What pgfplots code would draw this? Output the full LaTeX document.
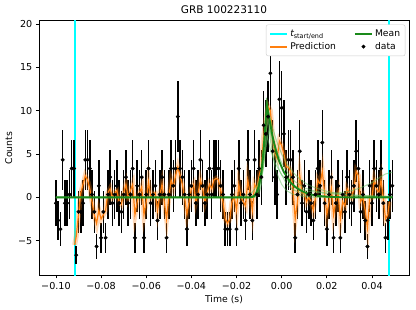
\documentclass[border=0pt]{standalone}
\usepackage{fontspec}
\setmainfont{DejaVu Sans}
\usepackage{pgfplots}
\pgfplotsset{compat=1.18}
\usepackage{pgfplotstable}
\definecolor{mplorange}{RGB}{255,127,14}
\definecolor{mplgreen}{RGB}{26,138,26}
\definecolor{lgreen}{RGB}{92,191,92}
\definecolor{mcyan}{RGB}{0,255,255}
\definecolor{blk}{RGB}{0,0,0}
\definecolor{lgray}{RGB}{204,204,204}

\pgfplotstableread{
x y e
-0.100 -0.67 2.65
-0.099 -2.67 2.24
-0.098 -3.67 2.00
-0.097 4.33 3.46
-0.096 -0.67 2.65
-0.095 -0.67 2.65
-0.094 0.33 2.83
-0.093 3.33 3.32
-0.092 3.33 3.32
-0.091 -6.67 1.00
-0.090 -1.67 2.45
-0.089 -1.67 2.45
-0.088 -0.67 2.65
-0.087 4.33 3.46
-0.086 4.33 3.46
-0.085 3.33 3.32
-0.084 0.33 2.83
-0.083 -1.67 2.45
-0.082 -5.67 1.41
-0.081 1.33 3.00
-0.080 -4.67 1.73
-0.079 -1.67 2.45
-0.078 -4.67 1.73
-0.077 0.33 2.83
-0.076 2.33 3.16
-0.075 -0.67 2.65
-0.074 0.33 2.83
-0.073 1.33 3.00
-0.072 -0.67 2.65
-0.071 -1.67 2.45
-0.070 0.33 2.83
-0.069 2.33 3.16
-0.068 -0.67 2.65
-0.067 0.33 2.83
-0.066 3.33 3.32
-0.065 -4.67 1.73
-0.064 1.33 3.00
-0.063 0.33 2.83
-0.062 2.33 3.16
-0.061 -4.67 1.73
-0.060 0.33 2.83
-0.059 3.33 3.32
-0.058 -0.67 2.65
-0.057 0.33 2.83
-0.056 1.33 3.00
-0.055 -2.67 2.24
-0.054 0.33 2.83
-0.053 2.33 3.16
-0.052 0.33 2.83
-0.051 -4.67 1.73
-0.050 0.33 2.83
-0.049 3.33 3.32
-0.048 1.33 3.00
-0.047 3.33 3.32
-0.046 9.33 4.12
-0.045 3.33 3.32
-0.044 2.33 3.16
-0.043 0.33 2.83
-0.042 -3.67 2.00
-0.041 0.33 2.83
-0.040 1.33 3.00
-0.039 3.33 3.32
-0.038 -0.67 2.65
-0.037 0.33 2.83
-0.036 4.33 3.46
-0.035 1.33 3.00
-0.034 -0.67 2.65
-0.033 0.33 2.83
-0.032 3.33 3.32
-0.031 0.33 2.83
-0.030 3.33 3.32
-0.029 3.33 3.32
-0.028 3.33 3.32
-0.027 1.33 3.00
-0.026 0.33 2.83
-0.025 -3.67 2.00
-0.024 -3.67 2.00
-0.023 -3.67 2.00
-0.022 0.33 2.83
-0.021 1.33 3.00
-0.020 -3.67 2.00
-0.019 3.33 3.32
-0.018 -0.67 2.65
-0.017 0.33 2.83
-0.016 -2.67 2.24
-0.015 4.33 3.46
-0.014 0.33 2.83
-0.013 -2.67 2.24
-0.012 4.33 3.46
-0.011 0.33 2.83
-0.010 3.33 3.32
-0.009 2.33 3.16
-0.008 8.33 4.00
-0.007 7.33 3.87
-0.006 9.33 4.12
-0.005 14.33 4.69
-0.004 5.33 3.61
-0.003 2.33 3.16
-0.002 0.33 2.83
-0.001 11.33 4.36
0.000 10.33 4.24
0.001 7.33 3.87
0.002 2.33 3.16
0.003 4.33 3.46
0.004 4.33 3.46
0.005 2.33 3.16
0.006 -4.67 1.73
0.007 0.33 2.83
0.008 5.33 3.61
0.009 -0.67 2.65
0.010 1.33 3.00
0.011 -1.67 2.45
0.012 0.33 2.83
0.013 -0.67 2.65
0.014 -2.67 2.24
0.015 0.33 2.83
0.016 3.33 3.32
0.017 1.33 3.00
0.018 6.33 3.74
0.019 -0.67 2.65
0.020 -3.67 2.00
0.021 0.33 2.83
0.022 2.33 3.16
0.023 -4.67 1.73
0.024 -0.67 2.65
0.025 1.33 3.00
0.026 -4.67 1.73
0.027 0.33 2.83
0.028 -1.67 2.45
0.029 2.33 3.16
0.030 0.33 2.83
0.031 -0.67 2.65
0.032 1.33 3.00
0.033 5.33 3.61
0.034 3.33 3.32
0.035 -1.67 2.45
0.036 0.33 2.83
0.037 -2.67 2.24
0.038 -5.67 1.41
0.039 1.33 3.00
0.040 -0.67 2.65
0.041 3.33 3.32
0.042 1.33 3.00
0.043 0.33 2.83
0.044 3.33 3.32
0.045 -0.67 2.65
0.046 -4.67 1.73
0.047 -2.67 2.24
0.048 0.33 2.83
0.049 1.33 3.00
}\data

\pgfplotstableread{
x p
-0.0917 -5.5
-0.091 -4.5
-0.090 -2.0
-0.089 0.5
-0.088 1.5
-0.087 2.5
-0.086 2.0
-0.085 1.0
-0.084 -0.5
-0.083 -2.0
-0.082 -3.0
-0.081 -1.5
-0.080 -2.5
-0.079 -2.0
-0.078 -1.5
-0.077 0.5
-0.076 1.0
-0.075 0.0
-0.074 0.5
-0.073 0.8
-0.072 -0.5
-0.071 -0.8
-0.070 0.5
-0.069 1.5
-0.068 0.0
-0.067 0.8
-0.066 1.5
-0.065 -2.0
-0.064 -0.5
-0.063 0.5
-0.062 1.2
-0.061 -2.0
-0.060 -0.5
-0.059 1.8
-0.058 0.0
-0.057 0.5
-0.056 0.5
-0.055 -1.5
-0.054 0.2
-0.053 1.5
-0.052 -0.5
-0.051 -2.5
-0.050 0.0
-0.049 2.0
-0.048 1.2
-0.047 2.5
-0.046 3.5
-0.045 2.5
-0.044 1.5
-0.043 0.0
-0.042 -2.0
-0.041 -0.5
-0.040 1.0
-0.039 1.5
-0.038 -0.5
-0.037 0.5
-0.036 2.0
-0.035 1.0
-0.034 -0.5
-0.033 0.5
-0.032 1.5
-0.031 1.0
-0.030 2.0
-0.029 2.2
-0.028 2.0
-0.027 0.8
-0.026 -0.5
-0.025 -2.5
-0.024 -3.0
-0.023 -2.5
-0.022 -0.5
-0.021 0.0
-0.020 -1.5
-0.019 1.5
-0.018 0.0
-0.017 -0.5
-0.016 -1.0
-0.015 2.0
-0.014 0.5
-0.013 -1.5
-0.012 1.5
-0.011 1.0
-0.010 2.5
-0.009 3.5
-0.008 7.0
-0.007 9.0
-0.006 10.5
-0.005 10.0
-0.004 7.0
-0.003 5.0
-0.002 4.5
-0.001 6.5
0.000 6.0
0.001 5.0
0.002 3.5
0.003 3.5
0.004 3.0
0.005 1.0
0.006 -2.5
0.007 -0.5
0.008 2.5
0.009 0.5
0.010 0.5
0.011 -0.5
0.012 0.0
0.013 -0.5
0.014 -1.5
0.015 0.0
0.016 2.0
0.017 1.5
0.018 3.0
0.019 0.5
0.020 -2.0
0.021 -0.5
0.022 1.0
0.023 -2.0
0.024 -0.5
0.025 0.5
0.026 -2.5
0.027 -0.5
0.028 -1.0
0.029 1.0
0.030 0.5
0.031 0.0
0.032 1.0
0.033 3.0
0.034 2.5
0.035 -0.5
0.036 0.0
0.037 -1.5
0.038 -3.5
0.039 0.0
0.040 0.0
0.041 2.0
0.042 1.0
0.043 0.5
0.044 2.0
0.045 0.0
0.046 -2.5
0.047 -2.0
0.0477 -0.5
}\pred

\begin{document}
\begin{tikzpicture}
\begin{axis}[
  scale only axis, width=370pt, height=254.6pt,
  xmin=-0.1075, xmax=0.0564, ymin=-9.0, ymax=20.4,
  axis line style={line width=0.7pt, blk},
  tick style={line width=0.7pt, blk},
  tick align=outside, major tick length=3.2pt,
  xtick pos=bottom, ytick pos=left,
  xtick={-0.10,-0.08,-0.06,-0.04,-0.02,0,0.02,0.04},
  xticklabels={−0.10,−0.08,−0.06,−0.04,−0.02,0.00,0.02,0.04},
  ytick={-5,0,5,10,15,20},
  yticklabels={−5,0,5,10,15,20},
  scaled x ticks=false,
  tick label style={font=\fontsize{9.6}{11}\selectfont},
  label style={font=\fontsize{9.3}{11}\selectfont},
  xlabel={Time (s)}, ylabel={Counts},
  xlabel style={yshift=1pt},
  ylabel style={yshift=-1pt},
  title={GRB 100223110},
  title style={font=\fontsize{10.5}{12}\selectfont, yshift=-2pt},
  legend columns=2,
  legend style={at={(rel axis cs:0.99,0.985)}, anchor=north east,
    draw=lgray, rounded corners=2pt, fill=white,
    font=\fontsize{9.2}{11}\selectfont, row sep=0.5pt,
    inner sep=3pt,
    /tikz/every even column/.append style={column sep=16pt}},
  legend cell align=left,
  clip=true,
]
% t start / end (drawn first)
\addplot[mcyan, line width=2pt] coordinates {(-0.0917,-9.5) (-0.0917,21)};
\addlegendentry{{\itshape t}\textsubscript{start/end}}
\addplot[mcyan, line width=2pt, forget plot] coordinates {(0.0477,-9.5) (0.0477,21)};

\addlegendimage{mplgreen, line width=2pt}
\addlegendentry{Mean}
\addlegendimage{mplorange, line width=2pt}
\addlegendentry{Prediction}
\addlegendimage{blk, only marks, mark=*, mark size=1.8pt, error bars/.cd, y dir=both, y fixed=3, error mark=none, error bar style={line width=1.5pt, blk}}
\addlegendentry{data}

% data
\addplot[only marks, mark=*, mark size=1.8pt, blk, forget plot,
  error bars/.cd, y dir=both, y explicit, error mark=none,
  error bar style={line width=1.5pt, blk}]
  table[x=x, y=y, y error=e] {\data};

% prediction band and line
\addplot[mplorange, line width=5pt, opacity=0.3, forget plot] table[x=x, y=p] {\pred};
\addplot[mplorange, line width=1.2pt, forget plot] table[x=x, y=p] {\pred};

% green samples
\addplot[lgreen, line width=1pt, opacity=0.5, forget plot] coordinates {
(-0.100,0) (-0.014,0) (-0.012,0.3) (-0.010,1.5) (-0.009,3.2) (-0.008,6.0) (-0.007,9.5) (-0.0068,11.5) (-0.006,10.3) (-0.005,9.0) (-0.004,8.0) (-0.002,6.3) (0.000,5.0) (0.002,4.0) (0.005,2.9) (0.008,2.1) (0.012,1.4) (0.016,1.0) (0.020,0.7) (0.025,0.45) (0.030,0.3) (0.040,0.15) (0.049,0.1)};
\addplot[lgreen, line width=1pt, opacity=0.5, forget plot] coordinates {
(-0.100,0) (-0.012,0) (-0.010,0.4) (-0.009,1.5) (-0.008,4.0) (-0.007,7.5) (-0.006,9.0) (-0.005,6.6) (-0.004,4.9) (-0.003,3.6) (-0.002,2.7) (0.000,1.5) (0.002,0.8) (0.005,0.35) (0.010,0.1) (0.015,0) (0.049,0)};
\addplot[lgreen, line width=1pt, opacity=0.5, forget plot] coordinates {
(-0.100,0) (-0.020,0) (-0.016,0.2) (-0.013,0.6) (-0.011,1.3) (-0.009,2.8) (-0.0075,5.0) (-0.0055,8.0) (-0.004,6.8) (-0.002,5.2) (0.000,4.0) (0.003,2.7) (0.006,1.8) (0.010,1.1) (0.015,0.7) (0.020,0.5) (0.025,0.5) (0.030,0.7) (0.035,1.1) (0.040,1.7) (0.044,2.4) (0.046,2.7) (0.049,2.9)};
\addplot[lgreen, line width=1pt, opacity=0.5, forget plot] coordinates {
(-0.100,0.02) (-0.012,0.02) (-0.010,0.8) (-0.008,4.0) (-0.007,7.0) (-0.0062,10.0) (-0.005,7.5) (-0.003,4.8) (-0.001,3.1) (0.002,1.6) (0.005,0.9) (0.010,0.3) (0.015,0.12) (0.020,0.05) (0.049,0.02)};
\addplot[lgreen, line width=1pt, opacity=0.5, forget plot] coordinates {
(-0.100,-0.05) (-0.014,-0.05) (-0.012,0.2) (-0.010,1.0) (-0.008,3.5) (-0.0065,7.2) (-0.005,5.5) (-0.003,4.0) (0.000,2.6) (0.004,1.6) (0.008,1.0) (0.012,0.7) (0.018,0.5) (0.025,0.35) (0.035,0.2) (0.049,0.1)};

% mean
\addplot[mplgreen, line width=1.9pt, forget plot] coordinates {
(-0.100,0) (-0.014,0) (-0.013,0.05) (-0.012,0.2) (-0.011,0.6) (-0.010,1.4) (-0.009,2.9) (-0.008,5.5) (-0.0072,8.5) (-0.0065,10.6) (-0.006,9.8) (-0.005,8.4) (-0.004,7.0) (-0.003,5.9) (-0.002,4.9) (-0.001,4.1) (0.000,3.5) (0.001,2.9) (0.002,2.5) (0.004,1.7) (0.006,1.2) (0.008,0.85) (0.010,0.6) (0.012,0.4) (0.014,0.28) (0.017,0.15) (0.020,0.08) (0.025,0.02) (0.030,0) (0.049,0)};
\end{axis}
\path (current axis.south west) ++(-39pt,-34.7pt) rectangle ++(416pt,310pt);
\end{tikzpicture}
\end{document}
